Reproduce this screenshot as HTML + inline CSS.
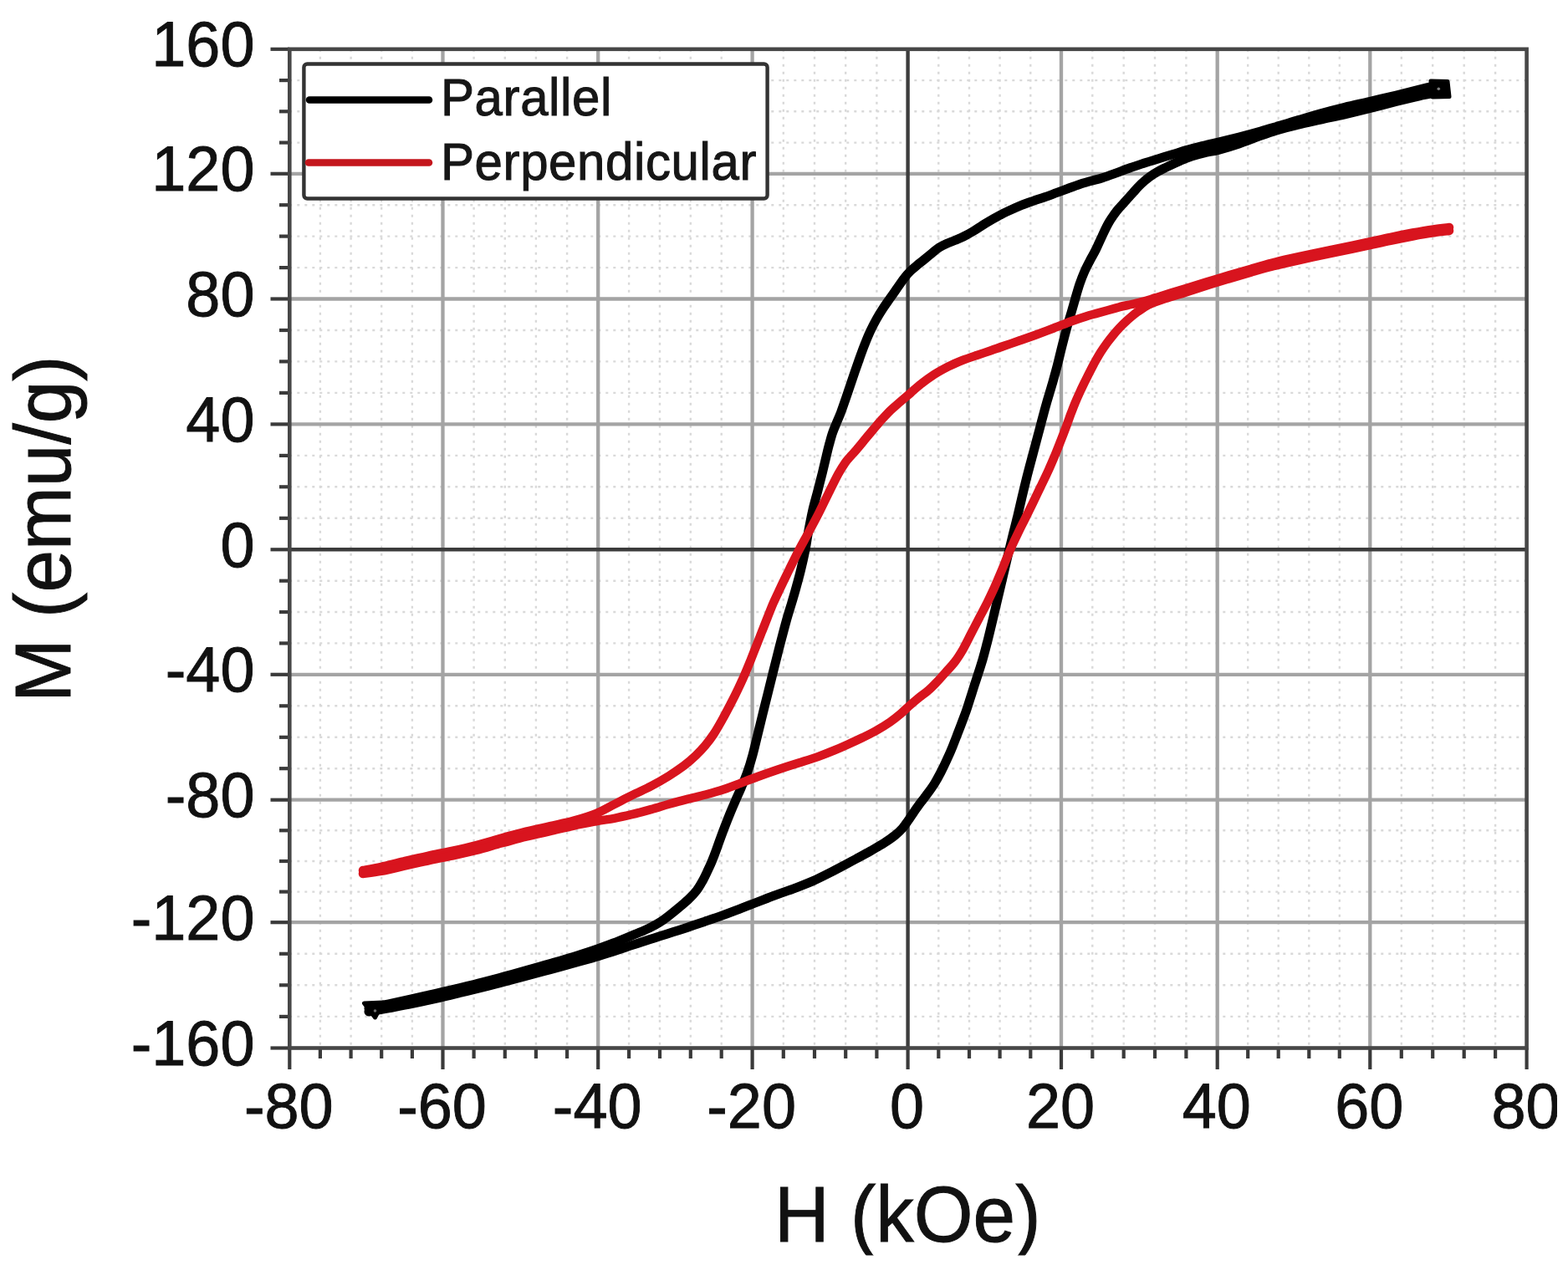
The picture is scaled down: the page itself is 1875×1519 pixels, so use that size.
<!DOCTYPE html><html><head><meta charset="utf-8"><title>M-H hysteresis</title><style>html,body{margin:0;padding:0;background:#fff;}body{width:1875px;height:1519px;overflow:hidden;}svg{display:block;filter:blur(0.6px);}text{font-family:"Liberation Sans",Arial,sans-serif;}</style></head><body>
<svg width="1875" height="1519" viewBox="0 0 1875 1519">
<rect x="0" y="0" width="1875" height="1519" fill="#fff"/>
<g stroke="#d9d9d9" stroke-width="2.4" stroke-dasharray="3 6"><line x1="382.9" y1="58.8" x2="382.9" y2="1253.5"/><line x1="419.6" y1="58.8" x2="419.6" y2="1253.5"/><line x1="456.2" y1="58.8" x2="456.2" y2="1253.5"/><line x1="492.9" y1="58.8" x2="492.9" y2="1253.5"/><line x1="566.6" y1="58.8" x2="566.6" y2="1253.5"/><line x1="603.8" y1="58.8" x2="603.8" y2="1253.5"/><line x1="640.9" y1="58.8" x2="640.9" y2="1253.5"/><line x1="678.1" y1="58.8" x2="678.1" y2="1253.5"/><line x1="752.1" y1="58.8" x2="752.1" y2="1253.5"/><line x1="789.0" y1="58.8" x2="789.0" y2="1253.5"/><line x1="825.8" y1="58.8" x2="825.8" y2="1253.5"/><line x1="862.7" y1="58.8" x2="862.7" y2="1253.5"/><line x1="936.8" y1="58.8" x2="936.8" y2="1253.5"/><line x1="974.0" y1="58.8" x2="974.0" y2="1253.5"/><line x1="1011.2" y1="58.8" x2="1011.2" y2="1253.5"/><line x1="1048.4" y1="58.8" x2="1048.4" y2="1253.5"/><line x1="1122.3" y1="58.8" x2="1122.3" y2="1253.5"/><line x1="1159.0" y1="58.8" x2="1159.0" y2="1253.5"/><line x1="1195.6" y1="58.8" x2="1195.6" y2="1253.5"/><line x1="1232.3" y1="58.8" x2="1232.3" y2="1253.5"/><line x1="1306.3" y1="58.8" x2="1306.3" y2="1253.5"/><line x1="1343.7" y1="58.8" x2="1343.7" y2="1253.5"/><line x1="1381.0" y1="58.8" x2="1381.0" y2="1253.5"/><line x1="1418.4" y1="58.8" x2="1418.4" y2="1253.5"/><line x1="1492.2" y1="58.8" x2="1492.2" y2="1253.5"/><line x1="1528.7" y1="58.8" x2="1528.7" y2="1253.5"/><line x1="1565.3" y1="58.8" x2="1565.3" y2="1253.5"/><line x1="1601.8" y1="58.8" x2="1601.8" y2="1253.5"/><line x1="1675.8" y1="58.8" x2="1675.8" y2="1253.5"/><line x1="1713.2" y1="58.8" x2="1713.2" y2="1253.5"/><line x1="1750.7" y1="58.8" x2="1750.7" y2="1253.5"/><line x1="1788.1" y1="58.8" x2="1788.1" y2="1253.5"/><line x1="346.3" y1="1215.9" x2="1825.6" y2="1215.9"/><line x1="346.3" y1="1178.3" x2="1825.6" y2="1178.3"/><line x1="346.3" y1="1140.8" x2="1825.6" y2="1140.8"/><line x1="346.3" y1="1066.6" x2="1825.6" y2="1066.6"/><line x1="346.3" y1="1030.0" x2="1825.6" y2="1030.0"/><line x1="346.3" y1="993.3" x2="1825.6" y2="993.3"/><line x1="346.3" y1="919.2" x2="1825.6" y2="919.2"/><line x1="346.3" y1="881.8" x2="1825.6" y2="881.8"/><line x1="346.3" y1="844.3" x2="1825.6" y2="844.3"/><line x1="346.3" y1="769.4" x2="1825.6" y2="769.4"/><line x1="346.3" y1="732.0" x2="1825.6" y2="732.0"/><line x1="346.3" y1="694.7" x2="1825.6" y2="694.7"/><line x1="346.3" y1="619.8" x2="1825.6" y2="619.8"/><line x1="346.3" y1="582.3" x2="1825.6" y2="582.3"/><line x1="346.3" y1="544.9" x2="1825.6" y2="544.9"/><line x1="346.3" y1="469.9" x2="1825.6" y2="469.9"/><line x1="346.3" y1="432.4" x2="1825.6" y2="432.4"/><line x1="346.3" y1="395.0" x2="1825.6" y2="395.0"/><line x1="346.3" y1="320.1" x2="1825.6" y2="320.1"/><line x1="346.3" y1="282.6" x2="1825.6" y2="282.6"/><line x1="346.3" y1="245.2" x2="1825.6" y2="245.2"/><line x1="346.3" y1="170.6" x2="1825.6" y2="170.6"/><line x1="346.3" y1="133.3" x2="1825.6" y2="133.3"/><line x1="346.3" y1="96.1" x2="1825.6" y2="96.1"/></g>
<g stroke="#a4a4a4" stroke-width="4.3"><line x1="529.5" y1="58.8" x2="529.5" y2="1253.5"/><line x1="715.2" y1="58.8" x2="715.2" y2="1253.5"/><line x1="899.6" y1="58.8" x2="899.6" y2="1253.5"/><line x1="1269.0" y1="58.8" x2="1269.0" y2="1253.5"/><line x1="1455.7" y1="58.8" x2="1455.7" y2="1253.5"/><line x1="1638.3" y1="58.8" x2="1638.3" y2="1253.5"/><line x1="346.3" y1="1103.2" x2="1825.6" y2="1103.2"/><line x1="346.3" y1="956.7" x2="1825.6" y2="956.7"/><line x1="346.3" y1="806.8" x2="1825.6" y2="806.8"/><line x1="346.3" y1="507.4" x2="1825.6" y2="507.4"/><line x1="346.3" y1="357.5" x2="1825.6" y2="357.5"/><line x1="346.3" y1="207.8" x2="1825.6" y2="207.8"/></g>
<g stroke="#3c3c3c" stroke-width="4.4"><line x1="1085.6" y1="58.8" x2="1085.6" y2="1253.5"/><line x1="346.3" y1="657.3" x2="1825.6" y2="657.3"/></g>
<g stroke="#3a3a3a" stroke-width="4.2"><line x1="323.5" y1="1253.5" x2="346.3" y2="1253.5"/><line x1="334" y1="1215.9" x2="346.3" y2="1215.9"/><line x1="334" y1="1178.3" x2="346.3" y2="1178.3"/><line x1="334" y1="1140.8" x2="346.3" y2="1140.8"/><line x1="323.5" y1="1103.2" x2="346.3" y2="1103.2"/><line x1="334" y1="1066.6" x2="346.3" y2="1066.6"/><line x1="334" y1="1030.0" x2="346.3" y2="1030.0"/><line x1="334" y1="993.3" x2="346.3" y2="993.3"/><line x1="323.5" y1="956.7" x2="346.3" y2="956.7"/><line x1="334" y1="919.2" x2="346.3" y2="919.2"/><line x1="334" y1="881.8" x2="346.3" y2="881.8"/><line x1="334" y1="844.3" x2="346.3" y2="844.3"/><line x1="323.5" y1="806.8" x2="346.3" y2="806.8"/><line x1="334" y1="769.4" x2="346.3" y2="769.4"/><line x1="334" y1="732.0" x2="346.3" y2="732.0"/><line x1="334" y1="694.7" x2="346.3" y2="694.7"/><line x1="323.5" y1="657.3" x2="346.3" y2="657.3"/><line x1="334" y1="619.8" x2="346.3" y2="619.8"/><line x1="334" y1="582.3" x2="346.3" y2="582.3"/><line x1="334" y1="544.9" x2="346.3" y2="544.9"/><line x1="323.5" y1="507.4" x2="346.3" y2="507.4"/><line x1="334" y1="469.9" x2="346.3" y2="469.9"/><line x1="334" y1="432.4" x2="346.3" y2="432.4"/><line x1="334" y1="395.0" x2="346.3" y2="395.0"/><line x1="323.5" y1="357.5" x2="346.3" y2="357.5"/><line x1="334" y1="320.1" x2="346.3" y2="320.1"/><line x1="334" y1="282.6" x2="346.3" y2="282.6"/><line x1="334" y1="245.2" x2="346.3" y2="245.2"/><line x1="323.5" y1="207.8" x2="346.3" y2="207.8"/><line x1="334" y1="170.6" x2="346.3" y2="170.6"/><line x1="334" y1="133.3" x2="346.3" y2="133.3"/><line x1="334" y1="96.1" x2="346.3" y2="96.1"/><line x1="323.5" y1="58.8" x2="346.3" y2="58.8"/><line x1="346.3" y1="1253.5" x2="346.3" y2="1279"/><line x1="382.9" y1="1253.5" x2="382.9" y2="1266"/><line x1="419.6" y1="1253.5" x2="419.6" y2="1266"/><line x1="456.2" y1="1253.5" x2="456.2" y2="1266"/><line x1="492.9" y1="1253.5" x2="492.9" y2="1266"/><line x1="529.5" y1="1253.5" x2="529.5" y2="1279"/><line x1="566.6" y1="1253.5" x2="566.6" y2="1266"/><line x1="603.8" y1="1253.5" x2="603.8" y2="1266"/><line x1="640.9" y1="1253.5" x2="640.9" y2="1266"/><line x1="678.1" y1="1253.5" x2="678.1" y2="1266"/><line x1="715.2" y1="1253.5" x2="715.2" y2="1279"/><line x1="752.1" y1="1253.5" x2="752.1" y2="1266"/><line x1="789.0" y1="1253.5" x2="789.0" y2="1266"/><line x1="825.8" y1="1253.5" x2="825.8" y2="1266"/><line x1="862.7" y1="1253.5" x2="862.7" y2="1266"/><line x1="899.6" y1="1253.5" x2="899.6" y2="1279"/><line x1="936.8" y1="1253.5" x2="936.8" y2="1266"/><line x1="974.0" y1="1253.5" x2="974.0" y2="1266"/><line x1="1011.2" y1="1253.5" x2="1011.2" y2="1266"/><line x1="1048.4" y1="1253.5" x2="1048.4" y2="1266"/><line x1="1085.6" y1="1253.5" x2="1085.6" y2="1279"/><line x1="1122.3" y1="1253.5" x2="1122.3" y2="1266"/><line x1="1159.0" y1="1253.5" x2="1159.0" y2="1266"/><line x1="1195.6" y1="1253.5" x2="1195.6" y2="1266"/><line x1="1232.3" y1="1253.5" x2="1232.3" y2="1266"/><line x1="1269.0" y1="1253.5" x2="1269.0" y2="1279"/><line x1="1306.3" y1="1253.5" x2="1306.3" y2="1266"/><line x1="1343.7" y1="1253.5" x2="1343.7" y2="1266"/><line x1="1381.0" y1="1253.5" x2="1381.0" y2="1266"/><line x1="1418.4" y1="1253.5" x2="1418.4" y2="1266"/><line x1="1455.7" y1="1253.5" x2="1455.7" y2="1279"/><line x1="1492.2" y1="1253.5" x2="1492.2" y2="1266"/><line x1="1528.7" y1="1253.5" x2="1528.7" y2="1266"/><line x1="1565.3" y1="1253.5" x2="1565.3" y2="1266"/><line x1="1601.8" y1="1253.5" x2="1601.8" y2="1266"/><line x1="1638.3" y1="1253.5" x2="1638.3" y2="1279"/><line x1="1675.8" y1="1253.5" x2="1675.8" y2="1266"/><line x1="1713.2" y1="1253.5" x2="1713.2" y2="1266"/><line x1="1750.7" y1="1253.5" x2="1750.7" y2="1266"/><line x1="1788.1" y1="1253.5" x2="1788.1" y2="1266"/><line x1="1825.6" y1="1253.5" x2="1825.6" y2="1279"/></g>
<rect x="346.3" y="58.8" width="1479.3" height="1194.7" fill="none" stroke="#474747" stroke-width="4.6"/>
<path d="M441.0,1206.0 C445.0,1205.1 456.2,1202.6 464.8,1200.8 C473.2,1198.9 482.6,1196.9 492.0,1194.9 C501.4,1192.8 511.3,1190.6 521.0,1188.4 C530.7,1186.1 540.5,1183.8 550.0,1181.5 C559.5,1179.2 569.4,1176.8 578.2,1174.5 C587.1,1172.2 595.0,1170.1 603.2,1167.9 C611.5,1165.6 618.6,1163.7 627.8,1161.1 C636.9,1158.6 647.7,1155.6 658.0,1152.6 C668.3,1149.6 679.8,1146.3 689.5,1143.2 C699.2,1140.2 707.8,1137.4 716.0,1134.5 C724.2,1131.6 731.7,1128.6 739.0,1125.8 C746.3,1122.9 753.3,1120.0 759.6,1117.3 C765.9,1114.6 771.7,1112.3 776.7,1109.8 C781.7,1107.4 785.7,1105.2 789.7,1102.6 C793.8,1100.1 797.2,1097.3 801.0,1094.4 C804.7,1091.5 808.5,1088.4 812.2,1085.3 C815.9,1082.1 819.9,1078.9 823.4,1075.5 C826.9,1072.2 830.3,1068.7 833.1,1065.0 C836.0,1061.3 838.2,1057.1 840.4,1053.2 C842.6,1049.3 844.4,1045.3 846.2,1041.4 C848.1,1037.5 849.7,1034.1 851.4,1029.9 C853.1,1025.8 854.8,1021.3 856.5,1016.6 C858.2,1011.9 860.0,1006.7 861.8,1001.8 C863.6,996.9 865.5,991.9 867.4,987.0 C869.3,982.1 871.3,977.1 873.3,972.2 C875.4,967.2 877.4,962.4 879.6,957.3 C881.8,952.3 884.1,947.4 886.4,941.9 C888.7,936.4 891.2,930.6 893.5,924.1 C895.8,917.7 898.0,910.5 900.0,903.1 C902.0,895.7 903.8,887.7 905.8,879.7 C907.8,871.7 909.8,863.2 911.8,855.0 C913.8,846.8 915.8,838.9 917.9,830.5 C920.0,822.0 922.0,813.7 924.4,804.1 C926.8,794.6 929.6,783.4 932.2,773.2 C934.8,763.1 937.7,751.9 940.1,743.2 C942.5,734.6 944.6,728.1 946.6,721.5 C948.5,714.9 950.0,710.1 951.8,703.5 C953.6,696.9 955.7,689.5 957.5,681.9 C959.4,674.3 961.3,665.8 962.9,657.9 C964.5,650.0 965.4,642.3 966.9,634.5 C968.4,626.7 969.8,619.0 971.6,611.1 C973.4,603.2 975.8,595.1 977.8,587.4 C979.7,579.7 981.8,571.9 983.5,565.0 C985.2,558.0 986.6,551.6 988.0,545.9 C989.4,540.2 990.5,535.3 991.8,530.8 C993.0,526.2 994.0,522.3 995.3,518.4 C996.6,514.4 998.0,511.3 999.8,507.1 C1001.5,502.9 1003.5,498.6 1005.6,493.1 C1007.6,487.7 1009.9,481.0 1012.2,474.3 C1014.5,467.6 1016.9,460.2 1019.3,453.2 C1021.7,446.2 1024.2,438.9 1026.6,432.1 C1029.0,425.4 1031.3,418.8 1033.7,412.8 C1036.0,406.9 1038.1,401.7 1040.5,396.5 C1042.9,391.4 1045.4,386.5 1048.0,381.9 C1050.6,377.2 1053.3,372.9 1056.0,368.8 C1058.7,364.6 1061.4,360.9 1064.2,356.9 C1067.1,352.9 1070.1,348.6 1072.8,344.6 C1075.6,340.7 1078.3,336.5 1081.0,333.1 C1083.6,329.6 1086.1,326.7 1089.0,323.9 C1091.8,321.1 1095.0,318.6 1098.0,316.1 C1101.0,313.6 1104.2,311.2 1107.1,308.9 C1109.9,306.6 1112.4,304.4 1115.1,302.2 C1117.7,300.1 1120.1,297.9 1122.9,296.1 C1125.7,294.3 1128.7,292.8 1131.8,291.4 C1135.0,289.9 1138.3,288.9 1141.7,287.5 C1145.0,286.1 1148.3,284.9 1152.1,283.0 C1155.9,281.1 1160.0,278.8 1164.5,276.1 C1169.0,273.3 1174.3,269.6 1179.2,266.7 C1184.1,263.7 1189.1,260.8 1193.9,258.3 C1198.6,255.7 1203.1,253.6 1207.7,251.5 C1212.3,249.4 1217.0,247.3 1221.6,245.4 C1226.2,243.6 1230.9,242.0 1235.5,240.4 C1240.1,238.8 1244.7,237.4 1249.3,235.8 C1253.9,234.2 1258.6,232.4 1263.2,230.7 C1267.8,229.0 1272.5,227.2 1277.1,225.5 C1281.7,223.8 1286.4,222.0 1291.0,220.5 C1295.5,219.0 1299.9,217.8 1304.4,216.5 C1309.0,215.2 1313.3,214.3 1318.3,212.7 C1323.3,211.1 1328.7,209.1 1334.2,207.1 C1339.7,205.1 1345.6,202.8 1351.3,200.8 C1357.0,198.8 1362.8,196.9 1368.5,195.0 C1374.2,193.2 1379.9,191.4 1385.6,189.7 C1391.3,187.9 1396.9,186.2 1402.7,184.4 C1408.5,182.7 1414.5,180.8 1420.6,179.1 C1426.6,177.4 1432.7,175.9 1439.0,174.3 C1445.2,172.7 1450.9,171.5 1458.0,169.8 C1465.1,168.0 1473.2,166.1 1481.5,164.0 C1489.8,161.9 1499.4,159.3 1507.5,157.0 C1515.6,154.7 1522.5,152.6 1530.0,150.4 C1537.5,148.2 1544.3,146.0 1552.5,143.6 C1560.7,141.2 1570.0,138.3 1579.2,135.8 C1588.5,133.2 1598.1,130.7 1608.0,128.3 C1617.9,125.9 1628.2,123.7 1638.5,121.3 C1648.8,118.9 1659.7,116.3 1669.5,114.0 C1679.3,111.6 1688.5,109.2 1697.2,107.0 C1706.0,104.8 1717.9,102.0 1722.0,101.0" fill="none" stroke="#000" stroke-width="11" stroke-linejoin="round" stroke-linecap="round"/>
<path d="M441.0,1210.0 C445.0,1209.3 456.2,1207.3 464.8,1205.8 C473.2,1204.2 482.6,1202.5 492.0,1200.6 C501.4,1198.7 511.3,1196.6 521.0,1194.4 C530.7,1192.2 540.5,1189.8 550.0,1187.5 C559.5,1185.2 569.4,1182.8 578.2,1180.6 C587.1,1178.4 595.0,1176.4 603.2,1174.2 C611.5,1172.1 618.6,1170.2 627.8,1167.8 C636.9,1165.3 647.7,1162.4 658.0,1159.6 C668.3,1156.8 679.8,1153.7 689.5,1151.0 C699.2,1148.3 708.1,1145.9 716.0,1143.5 C723.9,1141.1 730.9,1138.9 737.1,1136.8 C743.3,1134.8 748.0,1133.1 753.0,1131.4 C758.1,1129.7 762.5,1128.3 767.3,1126.7 C772.2,1125.1 777.3,1123.5 782.3,1121.9 C787.3,1120.3 792.2,1118.8 797.2,1117.2 C802.2,1115.6 807.2,1114.1 812.2,1112.5 C817.2,1110.9 822.0,1109.2 827.1,1107.5 C832.2,1105.8 837.2,1104.1 842.8,1102.2 C848.3,1100.2 854.3,1098.3 860.5,1096.1 C866.7,1093.9 873.5,1091.4 879.9,1088.9 C886.3,1086.5 892.9,1083.9 899.0,1081.5 C905.2,1079.1 911.1,1076.8 917.1,1074.5 C923.0,1072.2 928.8,1070.1 934.9,1067.9 C940.9,1065.7 947.0,1063.7 953.2,1061.3 C959.3,1059.0 965.6,1056.6 971.8,1053.9 C977.9,1051.2 983.9,1048.2 989.8,1045.2 C995.7,1042.3 1001.4,1039.2 1007.1,1036.2 C1012.8,1033.2 1018.5,1030.1 1024.2,1027.0 C1029.9,1023.9 1035.8,1020.7 1041.3,1017.6 C1046.9,1014.4 1052.6,1011.2 1057.4,1008.1 C1062.2,1005.0 1066.6,1002.0 1070.2,999.1 C1073.9,996.2 1076.6,993.5 1079.2,990.6 C1081.9,987.6 1083.7,984.7 1086.0,981.4 C1088.4,978.1 1090.6,974.5 1093.1,970.9 C1095.6,967.3 1098.5,963.3 1101.2,959.6 C1104.0,955.9 1106.9,952.3 1109.6,948.6 C1112.3,944.9 1114.8,941.5 1117.4,937.4 C1119.9,933.3 1122.4,928.7 1124.9,923.9 C1127.4,919.1 1130.0,913.6 1132.3,908.5 C1134.7,903.4 1137.0,898.2 1139.0,893.2 C1141.0,888.2 1142.8,883.4 1144.7,878.6 C1146.5,873.8 1148.3,869.2 1150.1,864.5 C1151.8,859.8 1153.6,855.3 1155.3,850.5 C1157.0,845.6 1158.6,840.4 1160.2,835.4 C1161.8,830.4 1163.4,825.2 1165.0,820.2 C1166.6,815.2 1168.1,810.8 1169.8,805.5 C1171.5,800.3 1173.1,795.4 1175.1,788.6 C1177.0,781.8 1179.1,773.8 1181.4,764.8 C1183.7,755.7 1186.4,744.2 1188.8,734.1 C1191.2,724.0 1193.7,713.1 1195.9,703.9 C1198.1,694.6 1200.0,686.3 1201.9,678.5 C1203.7,670.8 1205.3,664.0 1206.9,657.3 C1208.5,650.6 1210.0,644.6 1211.6,638.2 C1213.2,631.8 1214.7,626.0 1216.4,619.0 C1218.1,612.0 1219.7,604.5 1221.7,596.2 C1223.7,588.0 1225.9,578.4 1228.2,569.4 C1230.5,560.5 1233.0,551.0 1235.3,542.5 C1237.6,533.9 1239.8,525.6 1241.8,518.2 C1243.8,510.7 1245.4,504.1 1247.2,497.7 C1248.9,491.3 1250.4,485.9 1252.2,479.6 C1254.0,473.4 1256.0,467.2 1258.0,460.1 C1260.0,453.0 1262.3,445.0 1264.3,437.2 C1266.3,429.5 1268.2,421.0 1270.1,413.5 C1272.0,406.0 1273.9,398.7 1275.7,392.1 C1277.5,385.5 1279.3,379.8 1281.0,374.0 C1282.7,368.2 1284.2,362.8 1285.8,357.2 C1287.4,351.6 1289.0,345.9 1290.8,340.4 C1292.7,334.9 1294.8,329.4 1297.0,324.4 C1299.2,319.5 1301.6,315.1 1303.8,310.7 C1306.1,306.3 1308.4,302.7 1310.7,298.0 C1313.0,293.4 1315.1,288.1 1317.7,282.8 C1320.2,277.4 1323.0,271.1 1326.1,265.9 C1329.1,260.7 1332.6,256.0 1335.9,251.7 C1339.2,247.5 1342.7,244.0 1346.0,240.4 C1349.2,236.8 1352.3,233.3 1355.4,229.9 C1358.5,226.5 1361.4,223.1 1364.6,220.1 C1367.8,217.0 1371.1,214.1 1374.7,211.5 C1378.2,208.9 1382.0,206.6 1386.0,204.4 C1390.0,202.2 1394.2,200.2 1398.4,198.2 C1402.6,196.2 1406.8,194.3 1411.2,192.4 C1415.6,190.6 1420.0,188.6 1424.8,187.0 C1429.6,185.4 1434.5,184.1 1440.0,182.8 C1445.6,181.5 1451.1,180.9 1458.0,179.1 C1464.9,177.3 1473.2,174.8 1481.5,172.0 C1489.8,169.2 1499.4,165.2 1507.5,162.4 C1515.6,159.6 1522.5,157.2 1530.0,155.0 C1537.5,152.8 1544.3,151.2 1552.5,149.2 C1560.7,147.2 1570.0,145.2 1579.2,143.1 C1588.5,141.0 1598.1,139.1 1608.0,136.8 C1617.9,134.5 1628.2,132.0 1638.5,129.4 C1648.8,126.8 1659.7,123.9 1669.5,121.5 C1679.3,119.0 1688.5,116.7 1697.2,114.8 C1706.0,112.9 1717.9,110.8 1722.0,110.0" fill="none" stroke="#000" stroke-width="11" stroke-linejoin="round" stroke-linecap="round"/>
<path d="M434.0,1041.0 C437.7,1040.3 447.9,1038.5 456.0,1036.8 C464.1,1035.0 473.4,1032.5 482.6,1030.4 C491.8,1028.2 501.8,1025.8 511.4,1023.8 C521.0,1021.7 530.5,1020.0 540.2,1017.9 C549.9,1015.8 559.7,1013.6 569.5,1011.0 C579.4,1008.4 589.6,1005.3 599.5,1002.5 C609.4,999.8 619.3,997.1 629.0,994.7 C638.7,992.3 648.2,990.3 657.8,988.1 C667.3,985.9 677.1,984.0 686.2,981.5 C695.4,979.0 704.6,976.2 712.6,973.0 C720.6,969.8 727.2,965.7 734.4,962.1 C741.5,958.5 748.1,955.0 755.4,951.4 C762.7,947.7 770.9,944.2 778.3,940.4 C785.7,936.5 793.2,932.2 799.8,928.1 C806.3,924.0 812.5,919.8 817.9,915.8 C823.2,911.7 827.7,907.7 831.9,903.7 C836.1,899.7 839.5,896.2 843.1,891.9 C846.7,887.6 850.0,883.3 853.5,878.0 C857.0,872.7 860.6,866.2 864.1,860.0 C867.5,853.8 871.1,846.9 874.3,840.8 C877.5,834.6 880.3,828.9 883.0,823.2 C885.7,817.5 888.2,812.2 890.6,806.6 C893.0,801.1 895.2,795.6 897.5,790.0 C899.8,784.3 901.9,778.6 904.2,773.0 C906.4,767.4 908.6,761.9 910.8,756.2 C913.1,750.6 915.3,744.8 917.6,739.0 C919.9,733.2 922.1,727.4 924.6,721.5 C927.2,715.6 929.9,710.1 933.0,703.5 C936.1,696.9 939.8,689.4 943.4,682.0 C947.1,674.5 951.1,666.2 955.0,658.6 C959.0,651.0 963.1,643.9 967.1,636.4 C971.2,628.8 975.2,621.4 979.2,613.5 C983.2,605.6 987.3,596.9 991.1,589.2 C994.9,581.5 999.0,573.1 1002.3,567.0 C1005.6,561.0 1008.5,556.5 1011.0,552.9 C1013.5,549.4 1015.0,548.2 1017.2,545.6 C1019.5,543.1 1021.5,541.0 1024.2,537.8 C1027.0,534.5 1030.5,530.2 1033.8,526.2 C1037.0,522.3 1040.6,518.0 1044.0,514.0 C1047.4,510.0 1050.7,506.0 1054.2,502.1 C1057.8,498.2 1061.5,494.1 1065.2,490.5 C1069.0,486.9 1073.1,483.7 1077.0,480.2 C1080.9,476.8 1084.8,473.6 1088.9,470.0 C1093.0,466.4 1097.0,462.5 1101.8,458.9 C1106.5,455.2 1111.8,451.4 1117.1,447.9 C1122.5,444.5 1128.4,441.3 1134.0,438.4 C1139.6,435.6 1145.3,433.2 1151.0,430.9 C1156.7,428.7 1162.3,426.9 1168.0,425.0 C1173.7,423.0 1179.3,421.2 1185.0,419.2 C1190.7,417.3 1196.4,415.3 1202.1,413.3 C1207.9,411.3 1213.4,409.4 1219.4,407.3 C1225.4,405.2 1231.3,403.1 1238.1,400.7 C1244.9,398.2 1252.7,395.2 1260.0,392.5 C1267.3,389.7 1275.5,386.4 1281.9,384.0 C1288.3,381.7 1293.7,379.9 1298.6,378.4 C1303.5,376.8 1306.9,376.1 1311.2,374.9 C1315.5,373.7 1319.8,372.5 1324.4,371.2 C1329.0,369.9 1334.0,368.5 1338.8,367.2 C1343.6,366.0 1348.4,365.1 1353.2,364.0 C1358.0,362.9 1362.6,361.9 1367.6,360.5 C1372.5,359.1 1377.5,357.5 1382.9,355.9 C1388.3,354.2 1393.7,352.5 1399.8,350.6 C1405.8,348.8 1411.9,346.9 1419.0,344.7 C1426.1,342.5 1433.8,340.1 1442.2,337.5 C1450.7,335.0 1460.6,332.1 1469.5,329.4 C1478.4,326.8 1487.2,324.2 1495.8,321.7 C1504.3,319.2 1511.3,317.0 1521.0,314.6 C1530.7,312.1 1542.3,309.5 1553.8,307.0 C1565.2,304.5 1578.9,301.7 1589.5,299.4 C1600.1,297.2 1609.2,295.3 1617.5,293.6 C1625.8,291.8 1632.0,290.5 1639.5,288.9 C1647.0,287.3 1654.5,285.6 1662.8,283.9 C1671.0,282.1 1680.7,280.1 1689.2,278.5 C1697.8,276.9 1706.7,275.4 1714.0,274.4 C1721.3,273.3 1729.8,272.4 1733.0,272.0" fill="none" stroke="#d8141e" stroke-width="10.5" stroke-linejoin="round" stroke-linecap="round"/>
<path d="M434.0,1045.0 C437.7,1044.5 447.9,1043.4 456.0,1041.9 C464.1,1040.4 473.4,1038.1 482.6,1036.0 C491.8,1033.9 501.8,1031.6 511.4,1029.5 C521.0,1027.4 530.5,1025.7 540.2,1023.6 C549.9,1021.5 559.7,1019.4 569.5,1016.9 C579.4,1014.4 589.6,1011.2 599.5,1008.5 C609.4,1005.9 619.3,1003.1 629.0,1000.7 C638.7,998.3 648.2,996.3 657.8,994.1 C667.3,991.9 677.1,989.5 686.2,987.5 C695.4,985.5 704.6,983.8 712.6,982.3 C720.6,980.8 727.2,980.1 734.4,978.8 C741.5,977.4 748.1,975.9 755.4,974.2 C762.7,972.4 771.0,970.2 778.4,968.1 C785.8,966.1 792.9,963.8 800.0,961.8 C807.1,959.8 813.6,958.0 820.9,956.1 C828.2,954.2 836.2,952.5 843.7,950.5 C851.2,948.5 859.0,946.3 865.9,944.0 C872.8,941.7 878.6,939.4 885.2,936.9 C891.8,934.4 897.9,931.9 905.3,929.2 C912.7,926.5 921.2,923.5 929.5,920.7 C937.8,918.0 946.9,915.2 955.0,912.6 C963.1,910.0 971.0,907.6 978.0,905.1 C985.0,902.6 991.1,900.2 997.1,897.7 C1003.1,895.2 1008.5,892.8 1014.2,890.2 C1019.9,887.7 1025.6,885.1 1031.3,882.3 C1037.0,879.5 1042.9,876.7 1048.4,873.5 C1053.9,870.4 1059.6,866.9 1064.5,863.5 C1069.3,860.1 1073.4,856.8 1077.3,853.5 C1081.2,850.1 1084.4,846.8 1088.0,843.6 C1091.6,840.4 1095.5,837.2 1099.1,834.2 C1102.7,831.3 1106.4,829.0 1109.8,826.0 C1113.3,823.1 1116.2,820.1 1119.7,816.4 C1123.2,812.8 1127.1,808.3 1130.8,804.1 C1134.6,799.9 1138.6,795.8 1142.1,791.2 C1145.6,786.6 1148.4,782.1 1151.6,776.6 C1154.8,771.0 1158.0,764.1 1161.3,757.8 C1164.6,751.4 1168.1,744.7 1171.3,738.5 C1174.5,732.4 1177.5,726.7 1180.5,720.8 C1183.5,714.8 1186.3,708.8 1189.1,702.7 C1191.9,696.6 1194.5,690.1 1197.1,684.0 C1199.7,677.9 1202.1,671.6 1204.5,665.9 C1206.9,660.2 1209.2,654.8 1211.6,649.6 C1214.0,644.4 1216.4,639.5 1218.8,634.5 C1221.2,629.5 1223.6,625.0 1226.2,619.6 C1228.9,614.2 1231.7,608.4 1234.8,602.1 C1237.8,595.9 1241.3,588.5 1244.5,581.9 C1247.7,575.3 1250.9,568.8 1253.7,562.6 C1256.5,556.4 1258.9,550.7 1261.4,544.8 C1263.9,538.9 1266.2,532.8 1268.5,527.0 C1270.8,521.2 1273.0,515.5 1275.0,510.1 C1277.0,504.8 1278.7,499.8 1280.6,494.7 C1282.6,489.6 1284.4,484.6 1286.6,479.6 C1288.7,474.6 1291.1,469.5 1293.4,464.5 C1295.7,459.5 1298.1,454.7 1300.6,449.8 C1303.1,444.9 1305.6,439.9 1308.1,435.2 C1310.7,430.6 1313.4,425.8 1316.0,421.6 C1318.6,417.4 1321.3,413.6 1323.9,410.0 C1326.5,406.4 1329.0,403.3 1331.5,400.3 C1334.0,397.3 1336.4,394.6 1338.8,392.0 C1341.2,389.5 1343.6,387.1 1346.0,384.9 C1348.4,382.6 1350.8,380.5 1353.2,378.5 C1355.6,376.5 1358.0,374.6 1360.4,372.8 C1362.8,371.1 1364.9,369.6 1367.7,367.9 C1370.4,366.3 1372.8,364.8 1377.2,363.0 C1381.5,361.2 1386.9,359.3 1393.5,357.1 C1400.1,354.9 1408.6,352.5 1416.8,349.9 C1424.9,347.3 1433.5,344.5 1442.2,341.8 C1451.0,339.0 1460.6,336.1 1469.5,333.4 C1478.4,330.8 1487.2,328.2 1495.8,325.7 C1504.3,323.2 1511.3,321.0 1521.0,318.6 C1530.7,316.1 1542.3,313.5 1553.8,311.0 C1565.2,308.5 1578.9,305.7 1589.5,303.4 C1600.1,301.2 1609.2,299.3 1617.5,297.6 C1625.8,295.8 1632.0,294.5 1639.5,292.9 C1647.0,291.3 1654.5,289.6 1662.8,287.9 C1671.0,286.1 1680.7,284.1 1689.2,282.5 C1697.8,280.9 1706.7,279.4 1714.0,278.4 C1721.3,277.3 1729.8,276.4 1733.0,276.0" fill="none" stroke="#d8141e" stroke-width="10.5" stroke-linejoin="round" stroke-linecap="round"/>
<path d="M1711,97 L1731,97.5 L1733,115.5 L1713,116 Z" fill="#000" stroke="#000" stroke-width="5" stroke-linejoin="round"/>
<circle cx="1720.3" cy="106.3" r="1.8" fill="#808080"/>
<path d="M435.5,1200 L458,1199 L448.5,1217 Z" fill="#000" stroke="#000" stroke-width="5" stroke-linejoin="round"/>
<circle cx="448.5" cy="1209" r="1.8" fill="#707070"/>
<rect x="363.4" y="76.5" width="554.2" height="161" rx="4" fill="#fff" stroke="#333" stroke-width="4.4"/>
<line x1="370" y1="119.5" x2="513" y2="119.5" stroke="#000" stroke-width="8.5" stroke-linecap="round"/>
<line x1="369" y1="194.5" x2="513" y2="194.5" stroke="#c4161c" stroke-width="8.5" stroke-linecap="round"/>
<text transform="translate(527,138.4) scale(1,1.04)" font-size="60" letter-spacing="0.6" fill="#161616" stroke="#161616" stroke-width="1">Parallel</text>
<text transform="translate(527,215.2) scale(1,1.04)" font-size="60" letter-spacing="0.6" fill="#161616" stroke="#161616" stroke-width="1">Perpendicular</text>
<g font-size="75" fill="#111" stroke="#111" stroke-width="0.9"><text transform="translate(304.5,1274.0) scale(0.985,1.025)" text-anchor="end">-160</text><text transform="translate(304.5,1123.7) scale(0.985,1.025)" text-anchor="end">-120</text><text transform="translate(304.5,977.2) scale(0.985,1.025)" text-anchor="end">-80</text><text transform="translate(304.5,827.3) scale(0.985,1.025)" text-anchor="end">-40</text><text transform="translate(304.5,677.8) scale(0.985,1.025)" text-anchor="end">0</text><text transform="translate(304.5,527.9) scale(0.985,1.025)" text-anchor="end">40</text><text transform="translate(304.5,378.0) scale(0.985,1.025)" text-anchor="end">80</text><text transform="translate(304.5,228.3) scale(0.985,1.025)" text-anchor="end">120</text><text transform="translate(304.5,79.3) scale(0.985,1.025)" text-anchor="end">160</text><text transform="translate(345.3,1348.5) scale(0.985,1.01)" text-anchor="middle">-80</text><text transform="translate(528.5,1348.5) scale(0.985,1.01)" text-anchor="middle">-60</text><text transform="translate(714.2,1348.5) scale(0.985,1.01)" text-anchor="middle">-40</text><text transform="translate(898.6,1348.5) scale(0.985,1.01)" text-anchor="middle">-20</text><text transform="translate(1084.6,1348.5) scale(0.985,1.01)" text-anchor="middle">0</text><text transform="translate(1268.0,1348.5) scale(0.985,1.01)" text-anchor="middle">20</text><text transform="translate(1454.7,1348.5) scale(0.985,1.01)" text-anchor="middle">40</text><text transform="translate(1637.3,1348.5) scale(0.985,1.01)" text-anchor="middle">60</text><text transform="translate(1824.6,1348.5) scale(0.985,1.01)" text-anchor="middle">80</text></g>
<text transform="translate(926,1484.5) scale(1,1.04)" font-size="91" fill="#111" stroke="#111" stroke-width="0.9">H (kOe)</text>
<text transform="translate(84,840) rotate(-90) scale(1,1.04)" font-size="91" fill="#111" stroke="#111" stroke-width="0.9">M (emu/g)</text>
<rect x="0" y="1501.5" width="1875" height="18" fill="#fff"/>
<rect x="1862" y="0" width="13" height="1519" fill="#fff"/>
</svg></body></html>
